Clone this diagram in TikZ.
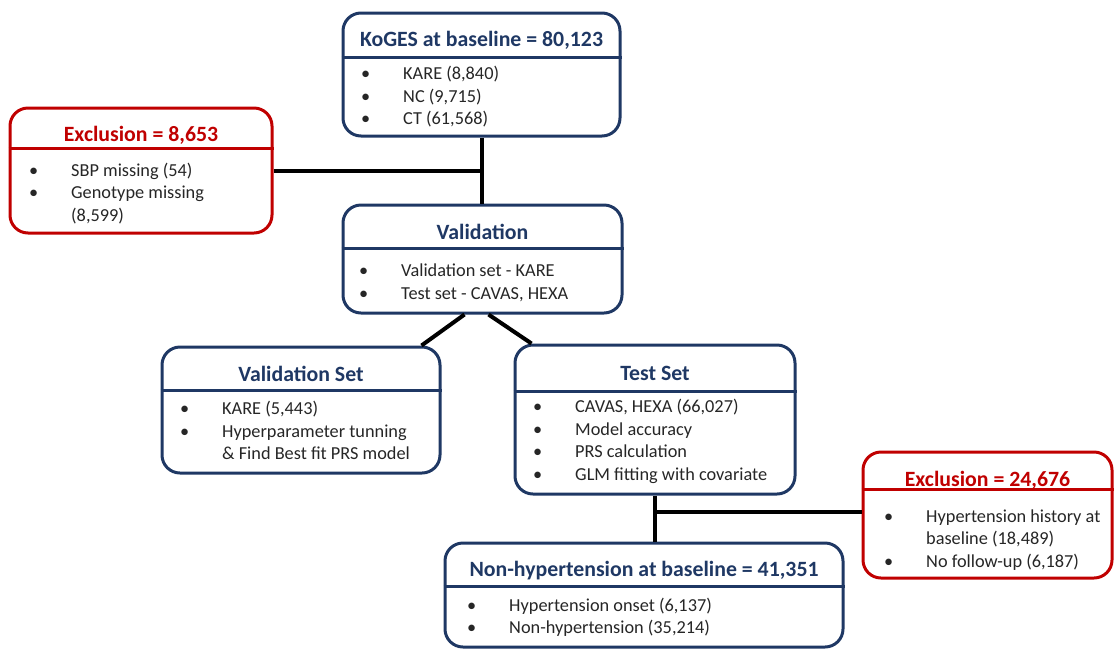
\documentclass[tikz,border=0pt]{standalone}
\usepackage{fontspec}
\setmainfont{Carlito}
\usetikzlibrary{positioning}
\definecolor{navy}{RGB}{31,56,100}
\definecolor{exred}{RGB}{192,0,0}
\definecolor{bodytext}{RGB}{38,38,38}
\newcommand{\titlesize}{\fontsize{21.8}{24}\selectfont\bfseries}
\newcommand{\bodysize}{\fontsize{18.3}{22.5}\selectfont}
\newcommand{\blist}[1]{\begin{tabular}{@{}p{42pt}@{}l@{}}#1\end{tabular}}
\tikzset{box/.style={ % Sets the properties for each box
      draw=navy, line width=3pt,
      rounded corners=18pt,
      inner sep=0pt},
      exbox/.style={box, draw=exred}, % Exclusion boxes are red
      title/.style={font=\titlesize, text=navy, inner sep=0pt},
      extitle/.style={title, text=exred},
      divider/.style={draw=navy, line width=3pt},
      exdivider/.style={divider, draw=exred},
      items/.style={anchor=west, font=\bodysize, text=bodytext, inner sep=0pt},
      link/.style={draw=black, line width=4pt}}

\begin{document}
\begin{tikzpicture}[x=1pt, y=-1pt]
      \useasboundingbox (0,0) rectangle (1114,649);
      % boxes
      \node[box, minimum width=277, minimum height=123] (koges) at (481.5,74.5) {};
      \node[exbox, minimum width=262, minimum height=125] (excl1) at (141,170.5) {};
      \node[box, minimum width=279, minimum height=108] (valid) at (482.5,259) {};
      \node[box, minimum width=278, minimum height=126] (valset) at (301,410) {};
      \node[box, minimum width=280, minimum height=149] (testset) at (655,419.5) {};
      \node[box, minimum width=398, minimum height=104] (nonhyp) at (644,595) {};
      \node[exbox, minimum width=249, minimum height=126] (excl2) at (987.5,515) {};
      % titles and dividers
      \node[title] (koges-t) at (481.5,40) {KoGES at baseline = 80,123};
      \draw[divider] (koges.west |- 0,57) -- (koges.east |- 0,57);
      \node[extitle] (excl1-t) at (141,135) {Exclusion = 8,653};
      \draw[exdivider] (excl1.west |- 0,148) -- (excl1.east |- 0,148);
      \node[title] (valid-t) at (482.5,232) {Validation};
      \draw[divider] (valid.west |- 0,248) -- (valid.east |- 0,248);
      \node[title] (valset-t) at (301,374) {Validation Set};
      \draw[divider] (valset.west |- 0,390) -- (valset.east |- 0,390);
      \node[title] (testset-t) at (655,373) {Test Set};
      \draw[divider] (testset.west |- 0,391) -- (testset.east |- 0,391);
      \node[title] (nonhyp-t) at (644,571) {Non-hypertension at baseline = 41,351};
      \draw[divider] (nonhyp.west |- 0,586) -- (nonhyp.east |- 0,586);
      \node[extitle] (excl2-t) at (987.5,480) {Exclusion = 24,676};
      \draw[exdivider] (excl2.west |- 0,489) -- (excl2.east |- 0,489);
      % bullet lists
      \node[items] (koges-l) at (361,97.5) {\blist{\textbullet & KARE (8,840)\\ \textbullet & NC (9,715)\\ \textbullet & CT (61,568)}};
      \node[items] (excl1-l) at (29,194) {\blist{\textbullet & SBP missing (54)\\ \textbullet & Genotype missing\\ & (8,599)}};
      \node[items] (valid-l) at (359,283.5) {\blist{\textbullet & Validation set - KARE\\ \textbullet & Test set - CAVAS, HEXA}};
      \node[items] (valset-l) at (180,432.5) {\blist{\textbullet & KARE (5,443)\\ \textbullet & Hyperparameter tunning\\ & \& Find Best fit PRS model}};
      \node[items] (testset-l) at (533,442) {\blist{\textbullet & CAVAS, HEXA (66,027)\\ \textbullet & Model accuracy\\ \textbullet & PRS calculation\\ \textbullet & GLM fitting with covariate}};
      \node[items] (nonhyp-l) at (467,618) {\blist{\textbullet & Hypertension onset (6,137)\\ \textbullet & Non-hypertension (35,214)}};
      \node[items] (excl2-l) at (884,540) {\blist{\textbullet & Hypertension history at\\ & baseline (18,489)\\ \textbullet & No follow-up (6,187)}};
      % connectors
      \draw[link] (koges.south) -- (koges.south |- valid.north);
      \draw[link] (excl1.east) -- (excl1.east -| koges.south);
      \draw[link] ([xshift=-18]valid.south) -- ([xshift=-20]valset.north east);
      \draw[link] ([xshift=6]valid.south) -- ([xshift=18]testset.north west);
      \draw[link] (testset.south) -- (testset.south |- nonhyp.north);
      \draw[link] ([yshift=3]excl2.west) -- ([yshift=3]excl2.west -| testset.south);
\end{tikzpicture}
\end{document}
